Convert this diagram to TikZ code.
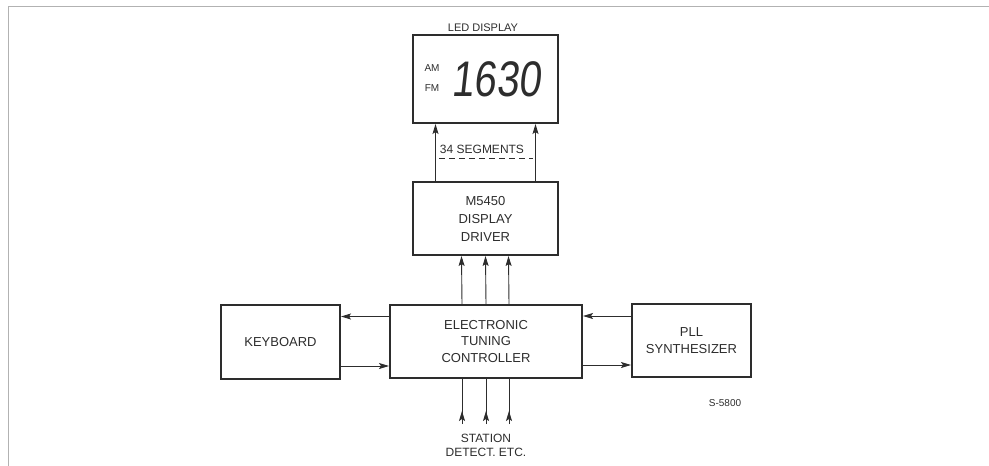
\documentclass[tikz,border=0pt]{standalone}
\usepackage{fontspec}
\setmainfont{Liberation Sans}
\usetikzlibrary{arrows.meta,positioning,calc,decorations.markings}
\definecolor{ink}{RGB}{45,45,45}

\begin{document}
\begin{tikzpicture}[x=1pt,y=-1pt,
  blk/.style={rectangle,draw=ink,line width=2pt,align=center,text=ink,font=\fontsize{13}{16.5}\selectfont},
  lbl/.style={text=ink,align=center,font=\fontsize{12}{14}\selectfont},
  arr/.style={draw=ink,line width=0.9pt,-{Stealth[length=10pt,width=6pt,inset=2pt]}},
  stub/.style={draw=ink,line width=0.9pt,postaction={decorate},
    decoration={markings,mark=at position 13pt with {\arrow{Stealth[length=10pt,width=6pt,inset=2pt]}}}}]
  \useasboundingbox (0,0) rectangle (989,466);
  % page frame (top and left edge only)
  \draw[gray!60,line width=1pt] (989,6) -- (8,6) -- (8,466);
  % blocks
  \node[blk,minimum width=145,minimum height=88] (led) at (485.5,79) {};
  \node[blk,minimum width=145,minimum height=73,font=\fontsize{13}{18}\selectfont] (drv) at (485.5,218.5) {M5450\\DISPLAY\\DRIVER};
  \node[blk,minimum width=192,minimum height=73] (ctrl) at (486,341.5) {ELECTRONIC\\TUNING\\CONTROLLER};
  \node[blk,minimum width=119,minimum height=74] (kbd) at (280.5,342) {KEYBOARD};
  \node[blk,minimum width=119,minimum height=73,font=\fontsize{13}{17}\selectfont] (pll) at (691.5,340.5) {PLL\\SYNTHESIZER};
  % display contents
  \node[lbl,font=\fontsize{11}{13}\selectfont] (ledtitle) at (483,28) {LED DISPLAY};
  \node[lbl,font=\fontsize{10}{12}\selectfont] (am) at (432,68) {AM};
  \node[lbl,font=\fontsize{10}{12}\selectfont] (fm) at (432,88) {FM};
  \node[text=ink,font=\fontsize{50}{50}\selectfont,xscale=0.8,xslant=0.14] (freq) at (498,79) {1630};
  % driver -> display, 34 segments
  \foreach \dx in {-50,50} {
    \draw[arr] ($(drv.north)+(\dx,0)$) -- ($(led.south)+(\dx,0)$);
  }
  \node[lbl] (seg) at (482,149) {34 SEGMENTS};
  \draw[ink,line width=0.9pt,dash pattern=on 6pt off 4pt] ($(seg.south west)+(3,2)$) -- ($(seg.south east)+(5,2)$);
  % controller -> driver
  \foreach \dx in {-24,0,23} {
    \draw[arr] ($(ctrl.north)+(\dx,0)$) -- ($(drv.south)+(\dx,0)$);
  }
  % keyboard and synthesizer links
  \draw[arr] ($(ctrl.west)+(0,-25)$) -- ($(kbd.east)+(0,-25.5)$);
  \draw[arr] ($(kbd.east)+(0,24)$) -- ($(ctrl.west)+(0,24.5)$);
  \draw[arr] ($(pll.west)+(0,-24.5)$) -- ($(ctrl.east)+(0,-25.5)$);
  \draw[arr] ($(ctrl.east)+(0,23.5)$) -- ($(pll.west)+(0,24.5)$);
  % station detect inputs
  \foreach \x [count=\i] in {462,486,509} {
    \coordinate (st\i) at (\x,424);
    \draw[stub] (st\i) -- (ctrl.south -| st\i);
  }
  \node[lbl,font=\fontsize{12}{14}\selectfont] (stn) at (486,445) {STATION\\DETECT. ETC.};
  \node[lbl,font=\fontsize{10}{12}\selectfont] (fig) at (725,403) {S-5800};
\end{tikzpicture}
\end{document}
